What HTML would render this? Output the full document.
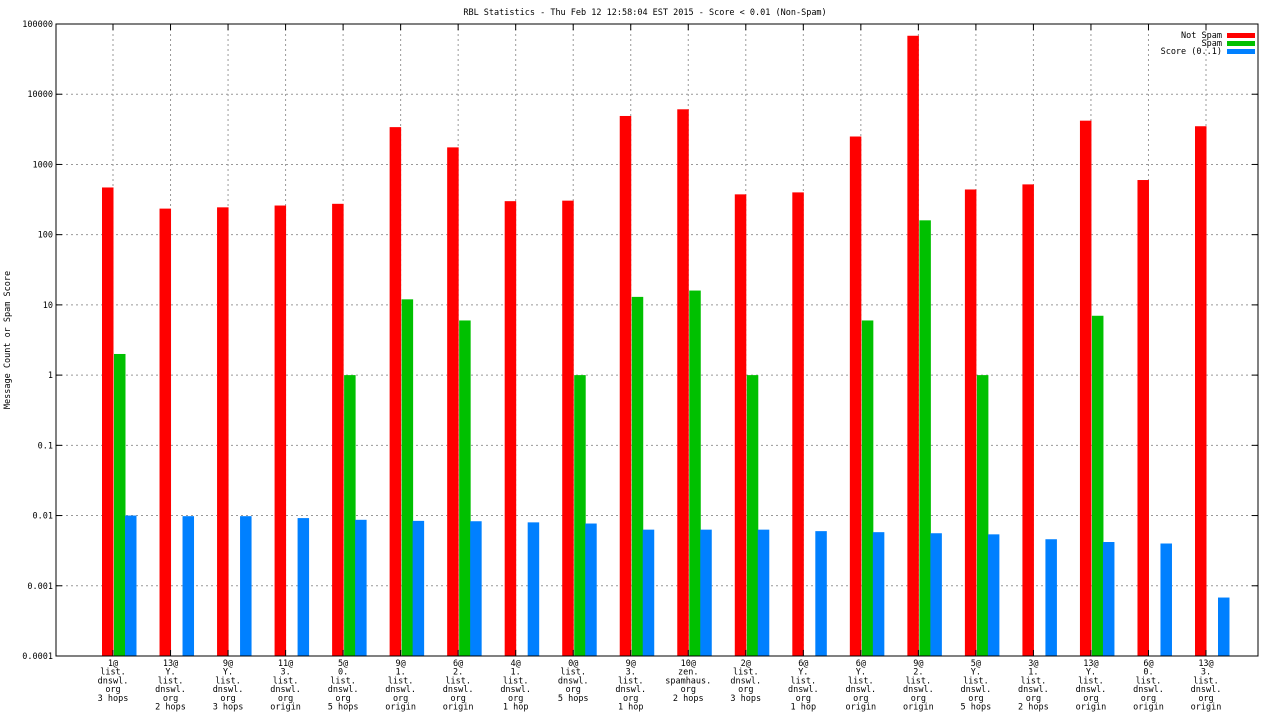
<!DOCTYPE html>
<html><head><meta charset="utf-8"><style>
body{margin:0;background:#fff;}
svg text{font-family:"DejaVu Sans Mono","Liberation Mono",monospace;font-size:8.5px;fill:#000;}
</style></head><body>
<svg id="c" width="1280" height="720">
<text x="645" y="15" text-anchor="middle">RBL Statistics - Thu Feb 12 12:58:04 EST 2015 - Score &lt; 0.01 (Non-Spam)</text>
<text transform="translate(10,340) rotate(-90)" text-anchor="middle">Message Count or Spam Score</text>
<g id="grid"></g><g id="bars"></g><g id="axes"></g>
<g>
<text x="1222" y="38" text-anchor="end">Not Spam</text>
<rect x="1227" y="33" width="28" height="5" fill="#ff0000"/>
<text x="1222" y="46" text-anchor="end">Spam</text>
<rect x="1227" y="41" width="28" height="5" fill="#00c000"/>
<text x="1222" y="54" text-anchor="end">Score (0..1)</text>
<rect x="1227" y="49" width="28" height="5" fill="#0080ff"/>
</g>
</svg>
<script>
const categories=[["1@","list.","dnswl.","org","3 hops"],["13@","Y.","list.","dnswl.","org","2 hops"],["9@","Y.","list.","dnswl.","org","3 hops"],["11@","3.","list.","dnswl.","org","origin"],["5@","0.","list.","dnswl.","org","5 hops"],["9@","1.","list.","dnswl.","org","origin"],["6@","2.","list.","dnswl.","org","origin"],["4@","1.","list.","dnswl.","org","1 hop"],["0@","list.","dnswl.","org","5 hops"],["9@","3.","list.","dnswl.","org","1 hop"],["10@","zen.","spamhaus.","org","2 hops"],["2@","list.","dnswl.","org","3 hops"],["6@","Y.","list.","dnswl.","org","1 hop"],["6@","Y.","list.","dnswl.","org","origin"],["9@","2.","list.","dnswl.","org","origin"],["5@","Y.","list.","dnswl.","org","5 hops"],["3@","1.","list.","dnswl.","org","2 hops"],["13@","Y.","list.","dnswl.","org","origin"],["6@","0.","list.","dnswl.","org","origin"],["13@","3.","list.","dnswl.","org","origin"]];
const notSpam=[470,235,245,260,275,3400,1750,300,305,4900,6100,375,400,2500,68000,440,520,4200,600,3500];
const spam=[2,0,0,0,1,12,6,0,1,13,16,1,0,6,160,1,0,7,0,0];
const score=[0.01,0.0098,0.0098,0.0092,0.0087,0.0084,0.0083,0.008,0.0077,0.0063,0.0063,0.0063,0.006,0.0058,0.0056,0.0054,0.0046,0.0042,0.004,0.00068];
const yTicks=["0.0001","0.001","0.01","0.1","1","10","100","1000","10000","100000"];
const L=56,R=1258,T=24,B=656,NS="http://www.w3.org/2000/svg";
const y=v=>B-(Math.log10(v)+4)*(B-T)/9;
const step=(1206-113)/(categories.length-1);
const x=i=>113+i*step;
function mk(tag,at,parent){const e=document.createElementNS(NS,tag);for(const k in at)e.setAttribute(k,at[k]);parent.appendChild(e);return e;}
const grid=document.getElementById('grid'),bars=document.getElementById('bars'),axes=document.getElementById('axes');
yTicks.forEach(t=>{const yy=y(parseFloat(t));
 if(yy>T+1&&yy<B-1){const g=mk('line',{x1:L,x2:R,y1:yy,y2:yy,stroke:'#999','stroke-dasharray':'2,3','stroke-width':1},grid);
 
 }
 mk('line',{x1:L,x2:L+6,y1:yy,y2:yy,stroke:'#000'},axes);
 mk('line',{x1:R-6,x2:R,y1:yy,y2:yy,stroke:'#000'},axes);
 const tx=mk('text',{x:L-3,y:yy+3,'text-anchor':'end'},axes);tx.textContent=t;
 
 
});
categories.forEach((c,i)=>{const cx=x(i);
 const g=mk('line',{x1:cx,x2:cx,y1:T,y2:B,stroke:'#999','stroke-dasharray':'2,3'},grid);
 
 
 mk('line',{x1:cx,x2:cx,y1:B-6,y2:B,stroke:'#000'},axes);
 mk('line',{x1:cx,x2:cx,y1:T,y2:T+6,stroke:'#000'},axes);
 c.forEach((s,j)=>{const t=mk('text',{x:cx,y:B+10+j*8.7,'text-anchor':'middle'},axes);t.textContent=s;
  
  });
 [[notSpam[i],-11,'#ff0000','bar-not-spam'],[spam[i],1,'#00c000','bar-spam'],[score[i],12,'#0080ff','bar-score']].forEach(([v,o,col,n])=>{
  if(v>0){const r=mk('rect',{x:cx+o,y:y(v),width:11.5,height:B-y(v),fill:col},bars);
  
  }
 });
});
const fr=mk('rect',{x:L,y:T,width:R-L,height:B-T,fill:'none',stroke:'#000'},axes);


</script>
</body></html>
